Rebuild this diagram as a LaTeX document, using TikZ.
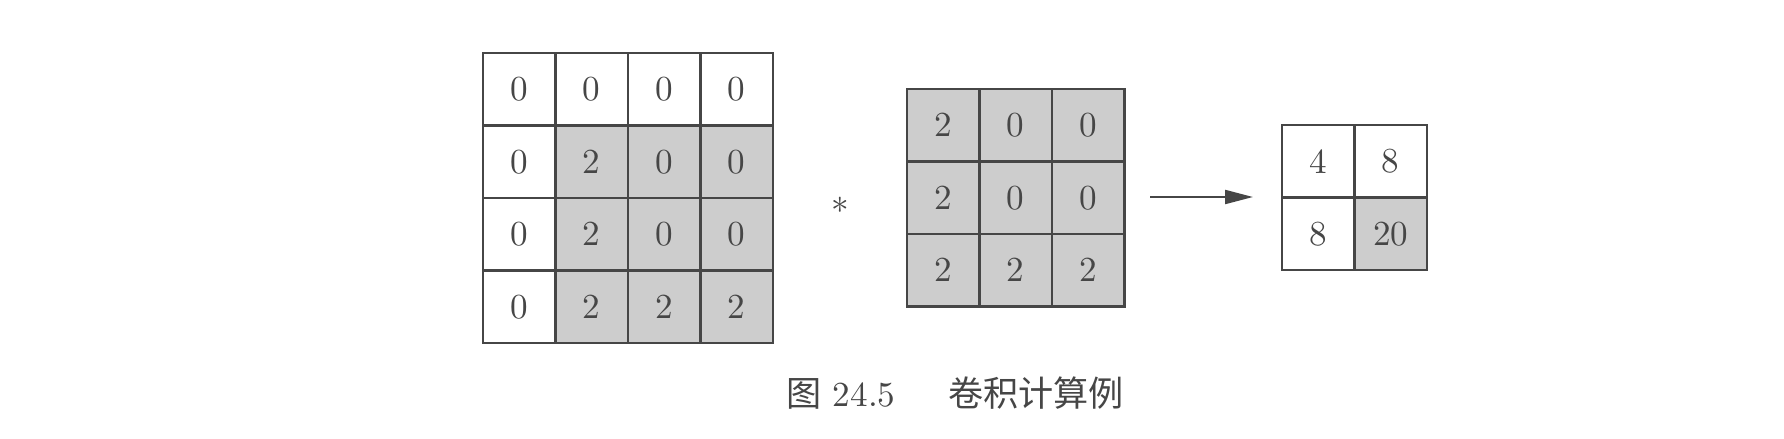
\documentclass[tikz,border=0pt]{standalone}
\usepackage{fontspec}
\newfontfamily\cjk{Noto Sans CJK SC}
\usepackage{tikz}
\usetikzlibrary{arrows.meta}
\definecolor{grisLinea}{RGB}{70,70,70}
\definecolor{grisCelda}{RGB}{205,205,205}

\begin{document}
\begin{tikzpicture}[
  every node/.style = {font=\normalsize, text=grisLinea},
  cell/.style  = {rectangle, draw=grisLinea, line width=0.7pt,
                  minimum size=7.25mm, inner sep=0pt, fill=white},
  cellG/.style = {cell, fill=grisCelda},
  arr/.style   = {-{Triangle[length=2.8mm,width=1.4mm]}, line width=0.6pt, draw=grisLinea},
]
\useasboundingbox (0,0) rectangle (17.84,4.38);

% ── Entrada 4x4 ──────────────────────────────────────────────
\node[cell]  (a11) at (5.1925,3.4875) {0};
\node[cell]  (a12) at (5.9175,3.4875) {0};
\node[cell]  (a13) at (6.6425,3.4875) {0};
\node[cell]  (a14) at (7.3675,3.4875) {0};
\node[cell]  (a21) at (5.1925,2.7625) {0};
\node[cellG] (a22) at (5.9175,2.7625) {2};
\node[cellG] (a23) at (6.6425,2.7625) {0};
\node[cellG] (a24) at (7.3675,2.7625) {0};
\node[cell]  (a31) at (5.1925,2.0375) {0};
\node[cellG] (a32) at (5.9175,2.0375) {2};
\node[cellG] (a33) at (6.6425,2.0375) {0};
\node[cellG] (a34) at (7.3675,2.0375) {0};
\node[cell]  (a41) at (5.1925,1.3125) {0};
\node[cellG] (a42) at (5.9175,1.3125) {2};
\node[cellG] (a43) at (6.6425,1.3125) {2};
\node[cellG] (a44) at (7.3675,1.3125) {2};

% ── Operador ─────────────────────────────────────────────────
\node (star) at (8.40,2.33) {$\ast$};

% ── Núcleo 3x3 ───────────────────────────────────────────────
\node[cellG] (k11) at (9.4325,3.1275)  {2};
\node[cellG] (k12) at (10.1575,3.1275) {0};
\node[cellG] (k13) at (10.8825,3.1275) {0};
\node[cellG] (k21) at (9.4325,2.4025)  {2};
\node[cellG] (k22) at (10.1575,2.4025) {0};
\node[cellG] (k23) at (10.8825,2.4025) {0};
\node[cellG] (k31) at (9.4325,1.6775)  {2};
\node[cellG] (k32) at (10.1575,1.6775) {2};
\node[cellG] (k33) at (10.8825,1.6775) {2};

% ── Flecha ───────────────────────────────────────────────────
\coordinate (arrS) at (11.50,2.41);
\coordinate (arrE) at (12.53,2.41);
\draw[arr] (arrS) -- (arrE);

% ── Salida 2x2 ───────────────────────────────────────────────
\node[cell]  (o11) at (13.1825,2.7675) {4};
\node[cell]  (o12) at (13.9075,2.7675) {8};
\node[cell]  (o21) at (13.1825,2.0425) {8};
\node[cellG] (o22) at (13.9075,2.0425) {20};

% ── Título ───────────────────────────────────────────────────
\node (cap) at (9.55,0.45) {{\cjk 图}\ 24.5\hspace{1.5em}{\cjk 卷积计算例}};

\end{tikzpicture}
\end{document}
